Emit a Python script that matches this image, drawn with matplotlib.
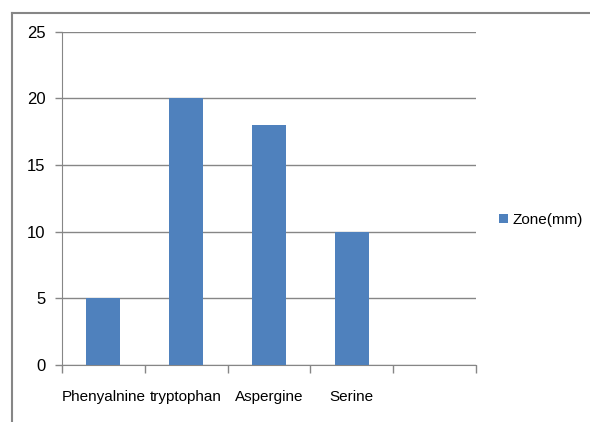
import matplotlib
matplotlib.use("Agg")
import matplotlib.pyplot as plt
from matplotlib.lines import Line2D
import numpy as np

categories = ["Phenyalnine", "tryptophan", "Aspergine", "Serine", ""]
zone_mm = [5, 20, 18, 10, 0]
series_name = "Zone(mm)"
y_ticks = [0, 5, 10, 15, 20, 25]

plt.rcParams['font.family'] = ['Liberation Sans', 'DejaVu Sans']

W, H = 590, 422
fig = plt.figure(figsize=(W / 100, H / 100), dpi=100)
ax = fig.add_axes([62 / W, 1 - 365 / H, (476 - 62) / W, (365 - 31.6) / H])

x = np.arange(len(categories))
ax.bar(x[:4], zone_mm[:4], width=0.41, color="#4F81BD", label=series_name, zorder=3)

ax.set_xlim(-0.5, len(categories) - 0.5)
ax.set_ylim(0, 25)
ax.set_yticks(y_ticks)
ax.set_yticklabels([str(v) for v in y_ticks], fontsize=12)
ax.yaxis.grid(True, color="#868686", linewidth=1)
ax.set_axisbelow(True)

# category labels between the boundary ticks
ax.set_xticks(np.arange(len(categories) + 1) - 0.5)
ax.set_xticklabels([])
ax.tick_params(axis="x", length=6, color="#868686", width=1)
ax.tick_params(axis="y", length=5, color="#868686", width=1, pad=7)
for i, c in enumerate(categories):
    ax.text(i, -0.095, c, transform=ax.get_xaxis_transform(), ha="center", va="center", fontsize=11)

for s in ["top", "right"]:
    ax.spines[s].set_visible(False)
ax.spines["left"].set_color("#868686")
ax.spines["bottom"].set_color("#868686")

ax.legend(loc="center left", bbox_to_anchor=(1.055, 0.435), frameon=False, fontsize=11,
          handlelength=0.6, handleheight=0.6, handletextpad=0.3, borderpad=0, borderaxespad=0)

# outer frame (partially cropped)
fig.add_artist(Line2D([12 / W, 12 / W], [0, 1 - 13 / H], color="#868686", linewidth=1.5,
                      transform=fig.transFigure))
fig.add_artist(Line2D([12 / W, 1], [1 - 13 / H, 1 - 13 / H], color="#868686", linewidth=1.5,
                      transform=fig.transFigure))

fig.savefig("out.png", dpi=100)
